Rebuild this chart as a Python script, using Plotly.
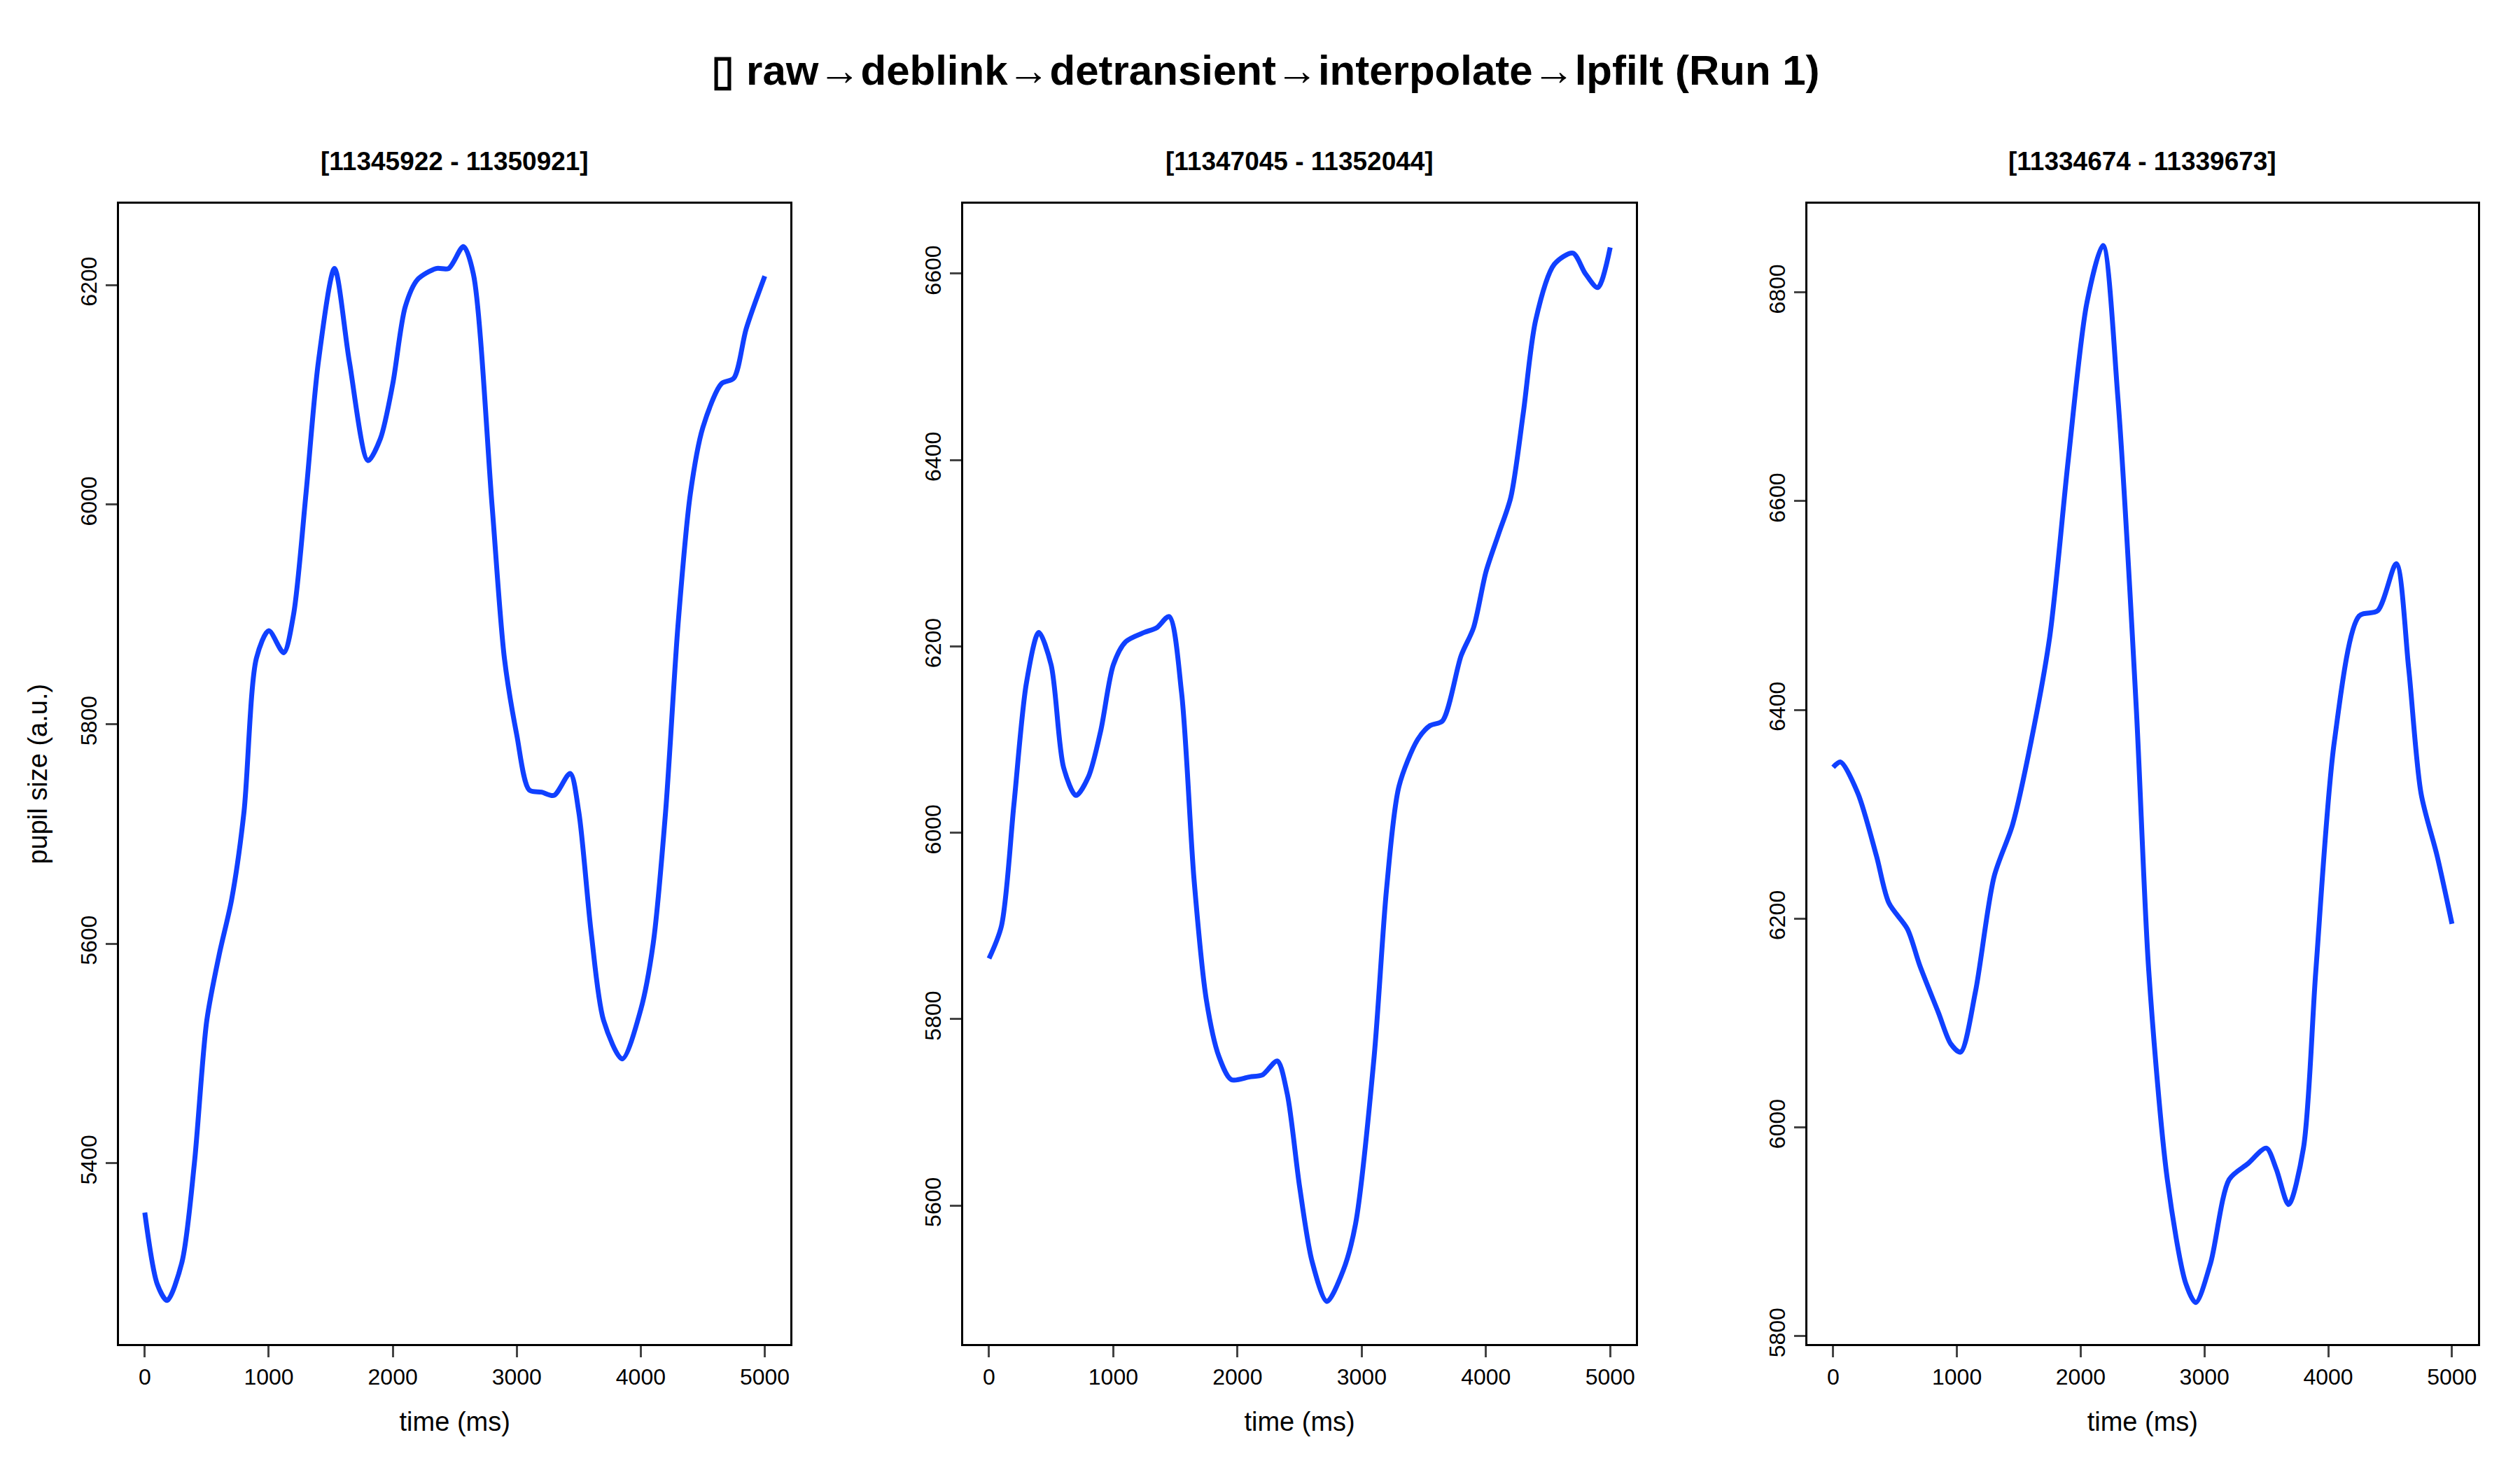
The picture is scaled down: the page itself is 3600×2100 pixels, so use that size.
import plotly.graph_objects as go
from plotly.subplots import make_subplots

# panel 1
t1 = [0, 100, 180, 300, 400, 500, 600, 700, 800, 900, 1000, 1120, 1200, 1300, 1400, 1530, 1650, 1800, 1900,
      2000, 2100, 2200, 2350, 2450, 2570, 2650, 2800, 2900, 3000, 3100, 3200, 3300, 3430, 3500, 3600, 3700,
      3850, 4000, 4100, 4200, 4300, 4400, 4500, 4650, 4750, 4850, 5000]
p1 = [5355, 5290, 5275, 5310, 5400, 5530, 5590, 5640, 5720, 5860, 5885, 5865, 5900, 6010, 6130, 6215, 6130,
      6040, 6060, 6110, 6180, 6205, 6215, 6215, 6235, 6210, 6000, 5860, 5790, 5740, 5738, 5735, 5755, 5720,
      5610, 5530, 5495, 5540, 5600, 5720, 5890, 6010, 6070, 6110, 6115, 6160, 6208]

# panel 2
t2 = [0, 100, 200, 300, 400, 500, 600, 700, 800, 900, 1000, 1100, 1250, 1350, 1450, 1550, 1650, 1750, 1850,
      1950, 2100, 2200, 2320, 2400, 2500, 2600, 2720, 2850, 2950, 3100, 3200, 3300, 3450, 3550, 3650, 3800,
      3900, 4000, 4100, 4200, 4300, 4400, 4550, 4700, 4800, 4900, 5000]
p2 = [5865, 5900, 6030, 6160, 6215, 6180, 6070, 6040, 6060, 6110, 6180, 6205, 6215, 6220, 6232, 6150, 5950,
      5820, 5760, 5735, 5738, 5740, 5755, 5720, 5620, 5540, 5497, 5530, 5580, 5760, 5940, 6050, 6100, 6115,
      6120, 6190, 6220, 6280, 6320, 6360, 6450, 6550, 6610, 6622, 6600, 6585, 6628]

# panel 3
t3 = [0, 60, 200, 350, 450, 600, 700, 850, 950, 1030, 1150, 1300, 1450, 1600, 1750, 1900, 2050, 2180, 2300,
      2450, 2550, 2700, 2850, 2930, 3050, 3200, 3350, 3500, 3580, 3680, 3800, 3900, 4050, 4250, 4400, 4550,
      4650, 4750, 4880, 5000]
p3 = [6345, 6350, 6320, 6260, 6215, 6190, 6155, 6110, 6080, 6072, 6130, 6240, 6290, 6370, 6470, 6640, 6790,
      6845, 6700, 6400, 6150, 5950, 5850, 5832, 5870, 5950, 5965, 5980, 5960, 5926, 5980, 6150, 6370, 6490,
      6495, 6540, 6440, 6320, 6260, 6195]

titles = ["[11345922 - 11350921]", "[11347045 - 11352044]", "[11334674 - 11339673]"]
yranges = [[5235, 6274], [5451, 6675], [5792, 6885]]
yticks = [[5400, 5600, 5800, 6000, 6200], [5600, 5800, 6000, 6200, 6400, 6600],
          [5800, 6000, 6200, 6400, 6600, 6800]]
domains = [[0.045, 0.3115], [0.380, 0.647], [0.715, 0.981]]

fig = make_subplots(rows=1, cols=3, horizontal_spacing=0.068)
font = "Liberation Sans, Arial, sans-serif"

for i, (t, p) in enumerate([(t1, p1), (t2, p2), (t3, p3)]):
    fig.add_trace(go.Scatter(x=t, y=p, mode="lines",
                             line=dict(color="#1040ff", width=7, shape="spline", smoothing=0.8),
                             showlegend=False), row=1, col=i + 1)
    fig.update_xaxes(range=[-208, 5208], tickvals=[0, 1000, 2000, 3000, 4000, 5000], domain=domains[i],
                     title=dict(text="time (ms)", standoff=34), row=1, col=i + 1)
    fig.update_yaxes(range=yranges[i], tickvals=yticks[i], tickangle=-90, row=1, col=i + 1)
    fig.add_annotation(text="<b>" + titles[i] + "</b>", x=sum(domains[i]) / 2, y=0.893,
                       xref="paper", yref="paper", xanchor="center", yanchor="middle",
                       showarrow=False, font=dict(size=37))

fig.update_yaxes(domain=[0.081, 0.864])
fig.update_yaxes(title=dict(text="pupil size (a.u.)", standoff=30), row=1, col=1)

fig.update_xaxes(showline=True, mirror=True, linecolor="black", linewidth=3, ticks="outside", ticklen=16,
                 tickwidth=3, showgrid=False, zeroline=False, tickfont=dict(size=32))
fig.update_yaxes(showline=True, mirror=True, linecolor="black", linewidth=3, ticks="outside", ticklen=16,
                 tickwidth=3, showgrid=False, zeroline=False, tickfont=dict(size=32))

fig.update_layout(
    title=dict(text="<b>\u25af raw\u2192deblink\u2192detransient\u2192interpolate\u2192lpfilt (Run 1)</b>",
               x=0.5, xanchor="center", y=0.956, yanchor="middle", font=dict(size=60)),
    width=3600, height=2100, margin=dict(l=0, r=0, t=0, b=0),
    plot_bgcolor="white", paper_bgcolor="white",
    font=dict(family=font, size=32, color="black"),
)

fig.write_html("out.html")
